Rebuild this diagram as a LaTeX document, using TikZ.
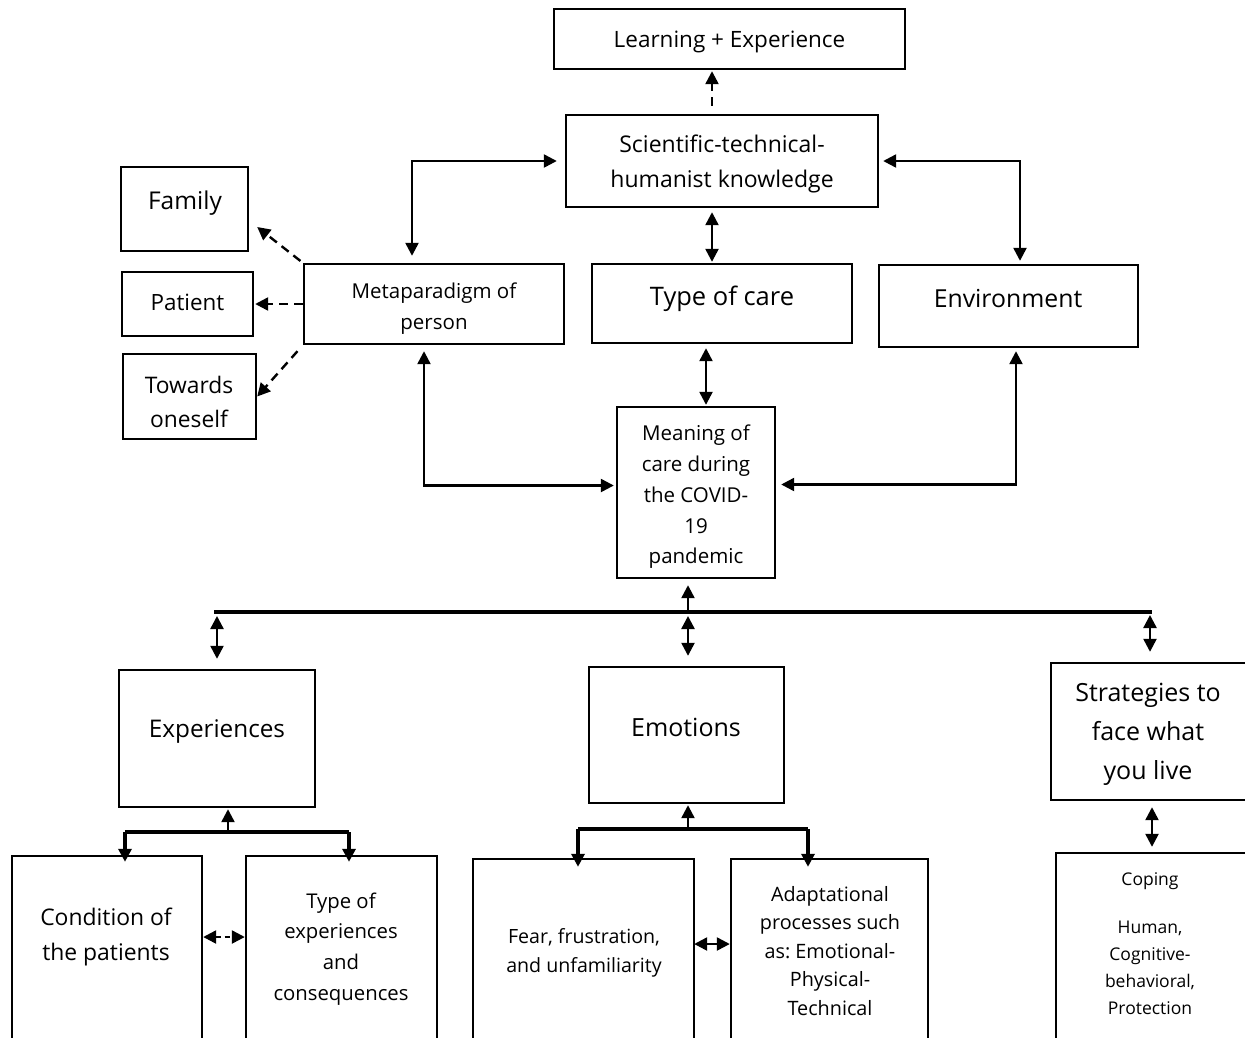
\documentclass[tikz,border=0pt]{standalone}
\usepackage{fontspec}
\setmainfont{Open Sans}
\usetikzlibrary{arrows.meta}
\newcommand{\myfs}[2]{\fontsize{#1}{#2}\selectfont}
\frenchspacing
\begin{document}
\frenchspacing
\begin{tikzpicture}[x=1pt,y=-1pt,
  >={Triangle[length=13pt,width=13pt]},
  box/.style={draw, line width=2.4pt, inner sep=0pt},
  txt/.style={align=center, inner sep=0pt},
  con/.style={line width=2.4pt},
  dsh/.style={line width=2.4pt, dash pattern=on 9pt off 6pt},
  bar/.style={line width=3.4pt}
]
\useasboundingbox (0,0) rectangle (1245,1037);
\clip (0,0) rectangle (1245,1037);

% ---------- boxes ----------
\node[box, minimum width=351pt, minimum height=60pt] (learn) at (729.5,39) {};
\node[txt, font=\myfs{22.5}{26}] (learnt) at (729.5,42) {Learning + Experience};
\node[box, minimum width=312pt, minimum height=92pt] (sci) at (722,161) {};
\node[txt, font=\myfs{23}{35}] (scit) at (722,164) {Scientific-technical-\\humanist knowledge};
\node[box, minimum width=127pt, minimum height=84pt] (fam) at (184.5,209) {};
\node[txt, font=\myfs{24.5}{28}] (famt) at (185,203) {Family};
\node[box, minimum width=131pt, minimum height=64pt] (pat) at (187.5,304) {};
\node[txt, font=\myfs{22.4}{26}] (patt) at (187.5,302) {Patient};
\node[box, minimum width=133pt, minimum height=85pt] (tow) at (189.5,396.5) {};
\node[txt, font=\myfs{22.8}{34}] (towt) at (189,402) {Towards\\oneself};
\node[box, minimum width=260pt, minimum height=80pt] (meta) at (434,304) {};
\node[txt, font=\myfs{20.5}{31}] (metat) at (434,309) {Metaparadigm of\\person};
\node[box, minimum width=260pt, minimum height=79pt] (care) at (722,303.5) {};
\node[txt, font=\myfs{25.5}{29}] (caret) at (722,299) {Type of care};
\node[box, minimum width=259pt, minimum height=82pt] (env) at (1008.5,306) {};
\node[txt, font=\myfs{24.8}{28}] (envt) at (1008,299) {Environment};
\node[box, minimum width=158pt, minimum height=171pt] (mean) at (696,492.5) {};
\node[txt, font=\myfs{20.5}{30.7}] (meant) at (696,497) {Meaning of\\care during\\the COVID-\\19\\pandemic};

\node[box, minimum width=196pt, minimum height=137pt] (exp) at (217,738.5) {};
\node[txt, font=\myfs{24.3}{28}] (expt) at (217,731) {Experiences};
\node[box, minimum width=195pt, minimum height=136pt] (emo) at (686.5,735) {};
\node[txt, font=\myfs{25}{28}] (emot) at (686,727) {Emotions};
\node[box, minimum width=209pt, minimum height=137pt] (strat) at (1155.5,731.5) {};
\node[txt, font=\myfs{25}{39}] (stratt) at (1148,734) {Strategies to\\face what\\you live};

\node[box, minimum width=190pt, minimum height=200pt] (cond) at (107,956) {};
\node[txt, font=\myfs{22.9}{35}] (condt) at (106,937) {Condition of\\the patients};
\node[box, minimum width=191pt, minimum height=200pt] (texp) at (341.5,956) {};
\node[txt, font=\myfs{20.3}{30.7}] (texpt) at (341,949) {Type of\\experiences\\and\\consequences};
\node[box, minimum width=221pt, minimum height=200pt] (fear) at (583.5,959) {};
\node[txt, font=\myfs{19.6}{29}] (feart) at (584,953) {Fear, frustration,\\and unfamiliarity};
\node[box, minimum width=197pt, minimum height=200pt] (adapt) at (829.5,959) {};
\node[txt, font=\myfs{19.8}{28.5}] (adaptt) at (830,951) {Adaptational\\processes such\\as: Emotional-\\Physical-\\Technical};
\node[box, minimum width=204pt, minimum height=200pt] (cop) at (1158,953) {};
\node[txt, font=\myfs{17.5}{27}] (copt) at (1150,944) {Coping\\[21pt]Human,\\Cognitive-\\behavioral,\\Protection};

% ---------- helper coordinates ----------
\coordinate (sciA) at ([xshift=-10pt]sci.north);
\coordinate (sciB) at ([xshift=-10pt]sci.south);
\coordinate (metaT) at ([xshift=-22pt]meta.north);
\coordinate (metaB) at ([xshift=-10pt]meta.south);
\coordinate (envT) at ([xshift=11.5pt]env.north);
\coordinate (envB) at ([xshift=7.5pt]env.south);
\coordinate (careB) at ([xshift=-16pt]care.south);
\coordinate (meanL) at ([yshift=7pt]mean.west);
\coordinate (meanR) at ([yshift=8pt]mean.east);
\coordinate (stratB) at ([xshift=-3.5pt]strat.south);

\coordinate (barL) at (214,612);
\coordinate (barR) at (1152,612);
\coordinate (b1) at (217,612);
\coordinate (b2) at (688,612);
\coordinate (b3) at (1150,612);

\coordinate (e0) at (228,832);
\coordinate (eL) at (125,832);
\coordinate (eR) at (349,832);
\coordinate (m0) at (688,829);
\coordinate (mL) at (578,829);
\coordinate (mR) at (808,829);

% ---------- connectors, upper part ----------
\draw[dsh, ->, shorten <=8pt, shorten >=1pt] (sciA) -- (sciA |- learn.south);
\draw[con, <->, shorten <=8pt, shorten >=7pt] (sci.west) -| (metaT);
\draw[con, <->, shorten <=4pt, shorten >=3pt] (sci.east) -| (envT);
\draw[con, <->, shorten <=4pt, shorten >=1pt] (sciB) -- (sciB |- care.north);

\draw[dsh, ->, shorten <=3pt] (meta.north west) -- ([xshift=8pt,yshift=-18pt]fam.east);
\draw[dsh, ->, shorten >=1pt] (meta.west) -- (pat.east);
\draw[dsh, ->, shorten <=8pt] (meta.south west) -- (tow.east);

\draw[con, <->, shorten <=2pt, shorten >=6pt] (meanL) -| (metaB);
\draw[con, <->, shorten <=4pt, shorten >=1pt] (careB) -- (careB |- mean.north);
\draw[con, <->, shorten <=5pt, shorten >=3pt] (meanR) -| (envB);

% ---------- connectors, lower part ----------
\draw[bar] (barL) -- (barR);
\draw[con, ->, shorten >=6pt] (b2) -- (b2 |- mean.south);
\draw[con, <->, shorten <=4pt, shorten >=10pt] (b1) -- (b1 |- exp.north);
\draw[con, <->, shorten <=4pt, shorten >=10pt] (b2) -- (b2 |- emo.north);
\draw[con, <->, shorten <=3pt, shorten >=10pt] (b3) -- (b3 |- strat.north);
\draw[con, <->, shorten <=6pt, shorten >=5pt] (stratB) -- (stratB |- cop.north);

\draw[con, ->, shorten >=1pt] (e0) -- (e0 |- exp.south);
\draw[bar] (eL) -- (eR);
\draw[bar, ->, shorten >=-7pt] (eL) -- (eL |- cond.north);
\draw[bar, ->, shorten >=-7pt] (eR) -- (eR |- texp.north);

\draw[con, ->, shorten >=1pt] (m0) -- (m0 |- emo.south);
\draw[bar] (mL) -- (mR);
\draw[bar, ->, shorten >=-9pt] (mL) -- (mL |- fear.north);
\draw[bar, ->, shorten >=-9pt] (mR) -- (mR |- adapt.north);

\draw[con, <->, dash pattern=on 5pt off 4pt] ([yshift=19pt]cond.east) -- ([yshift=19pt]texp.east -| texp.west);
\draw[con, <->, shorten <=-1pt] ([yshift=15pt]fear.east) -- ([yshift=15pt]adapt.west);
\end{tikzpicture}
\end{document}
